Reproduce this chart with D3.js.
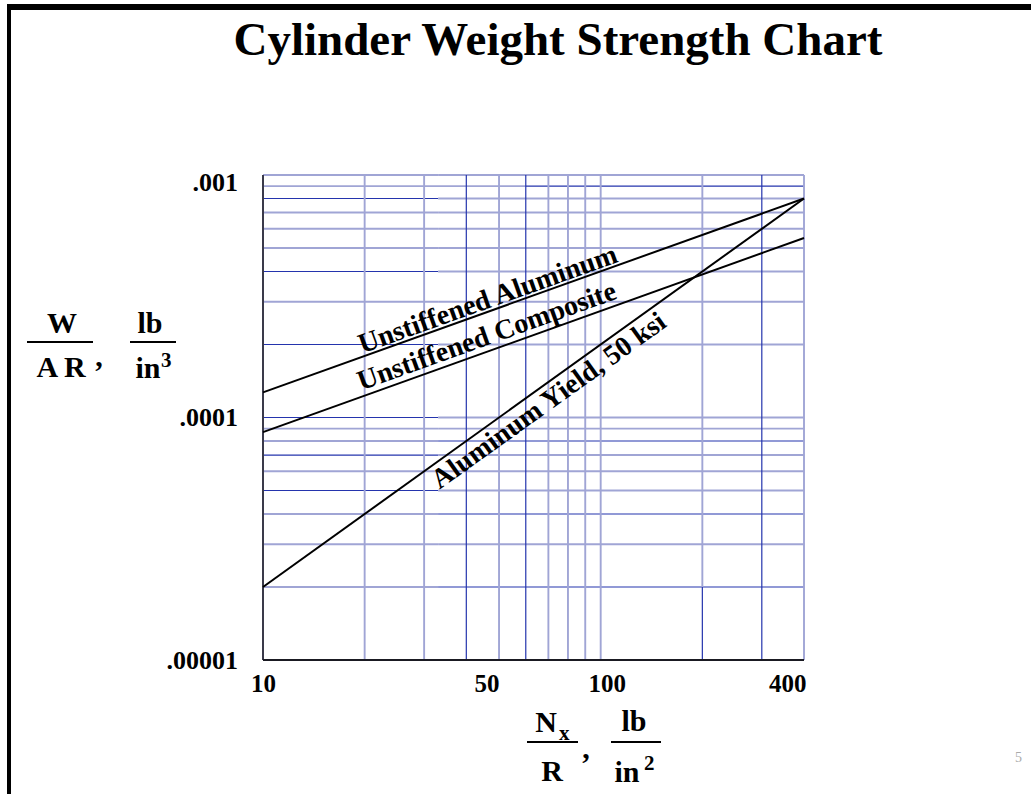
<!DOCTYPE html>
<html><head><meta charset="utf-8">
<script src="https://cdn.jsdelivr.net/npm/d3@7"></script>
<style>body{margin:0;background:#fff}svg{display:block}</style>
</head><body>
<script>
// ---- data ----
const titleText = "Cylinder Weight Strength Chart";
const xTicks = [10, 50, 100, 400];
const xTickLabels = ["10", "50", "100", "400"];
const yTicks = [1e-5, 1e-4, 1e-3];
const yTickLabels = [".00001", ".0001", ".001"];
const xGridValues = [20, 30, 40, 50, 60, 70, 80, 90, 100, 200, 300, 400];
const yGridValues = [2e-5, 3e-5, 4e-5, 5e-5, 6e-5, 7e-5, 8e-5, 9e-5, 1e-4,
                     2e-4, 3e-4, 4e-4, 5e-4, 6e-4, 7e-4, 8e-4, 9e-4, 1e-3];
const loadValues = [10, 400];                 // Nx/R, lb/in^2
const aluminumValues = [1.27e-4, 8.0e-4];     // W/AR, lb/in^3
const compositeValues = [8.7e-5, 5.5e-4];
const yieldValues = [2.0e-5, 8.0e-4];
const seriesNames = ["Unstiffened Aluminum", "Unstiffened Composite", "Aluminum Yield, 50 ksi"];

// ---- layout ----
const W = 1031, H = 794;
const svg = d3.select("body").append("svg").attr("width", W).attr("height", H);
const x = d3.scaleLog().domain([10, 400]).range([263, 804]);
const y = d3.scaleLog().domain([1e-5, 1e-3]).range([660, 175]);
const SERIF = "'Liberation Serif','Times New Roman',serif";
const LIGHT = "#a0a5d5", DARK = "#2434ad";

// slide frame (top and left)
svg.append("rect").attr("x", 7).attr("y", 4).attr("width", W - 7).attr("height", 6).attr("fill", "#000");
svg.append("rect").attr("x", 7).attr("y", 4).attr("width", 4).attr("height", H - 4).attr("fill", "#000");

// title
svg.append("text").attr("x", 558).attr("y", 55).attr("text-anchor", "middle")
  .attr("font-family", SERIF).attr("font-weight", "bold").attr("font-size", 47)
  .text(titleText);

// ---- grid ----
const g = svg.append("g");
const key = v => Math.round(v * 1e6);
const darkX = new Set([40, 60, 300]);
const darkLeft = new Set([800, 400, 200, 100, 70, 50]);
const darkRight = new Set([900, 80, 40, 20]);
const split = 33;
function seg(x1, x2, yy, dark) {
  g.append("line").attr("x1", x1).attr("x2", x2).attr("y1", yy).attr("y2", yy)
    .attr("stroke", dark ? DARK : LIGHT).attr("stroke-width", dark ? 1.2 : 1.9);
}
function vseg(xx, y1, y2, dark) {
  g.append("line").attr("x1", xx).attr("x2", xx).attr("y1", y1).attr("y2", y2)
    .attr("stroke", dark ? DARK : LIGHT).attr("stroke-width", dark ? 1.2 : 1.9);
}
yGridValues.forEach(v => {
  const k = key(v), yy = y(v);
  if (k === 900) { seg(x(10), x(60), yy, false); seg(x(60), x(400), yy, true); return; }
  seg(x(10), x(split), yy, darkLeft.has(k));
  seg(x(split), x(400), yy, darkRight.has(k));
});
xGridValues.forEach(v => {
  if (v === 200) { vseg(x(v), y(1e-3), y(2e-5), false); vseg(x(v), y(2e-5), y(1e-5), true); return; }
  vseg(x(v), y(1e-3), y(1e-5), darkX.has(v));
});
// axes lines
g.append("line").attr("x1", x(10)).attr("x2", x(10)).attr("y1", y(1e-3)).attr("y2", y(1e-5))
  .attr("stroke", "#3a3a4a").attr("stroke-width", 2);
g.append("line").attr("x1", x(10)).attr("x2", x(400)).attr("y1", y(1e-5)).attr("y2", y(1e-5))
  .attr("stroke", "#1a1a22").attr("stroke-width", 2);

// ---- series lines ----
const series = [aluminumValues, compositeValues, yieldValues];
const line = d3.line().x((d, i) => x(loadValues[i])).y(d => y(d));
svg.selectAll("path.series").data(series).join("path").attr("class", "series")
  .attr("d", line).attr("fill", "none").attr("stroke", "#000").attr("stroke-width", 2);

// line labels: start value along line and perpendicular offset (px, + = below)
const labelPlace = [{start: 19.8, off: -3}, {start: 19.8, off: -6}, {start: 30.3, off: 24}];
series.forEach((vals, i) => {
  const x0 = x(loadValues[0]), y0 = y(vals[0]), x1 = x(loadValues[1]), y1 = y(vals[1]);
  const ang = Math.atan2(y1 - y0, x1 - x0);
  const t = (x(labelPlace[i].start) - x0) / (x1 - x0);
  const px = x0 + t * (x1 - x0), py = y0 + t * (y1 - y0);
  const nx = -Math.sin(ang), ny = Math.cos(ang);
  const bx = px + nx * labelPlace[i].off, by = py + ny * labelPlace[i].off;
  svg.append("text").attr("transform", `translate(${bx},${by}) rotate(${ang * 180 / Math.PI})`)
    .attr("font-family", SERIF).attr("font-weight", "bold").attr("font-size", 28)
    .text(seriesNames[i]);
});

// ---- axes ticks ----
const xa = svg.append("g").attr("transform", `translate(0,${y(1e-5)})`)
  .call(d3.axisBottom(x).tickValues(xTicks).tickFormat((d, i) => xTickLabels[i]).tickSize(0).tickPadding(14));
xa.select(".domain").remove();
xa.selectAll("text").attr("font-family", SERIF).attr("font-weight", "bold").attr("font-size", 25).attr("fill", "#000")
  .attr("text-anchor", d => (d === 50 || d === 400) ? "end" : "middle")
  .attr("dx", d => d === 100 ? 6 : (d === 400 ? 2 : 0));
const ya = svg.append("g").attr("transform", `translate(${x(10)},0)`)
  .call(d3.axisLeft(y).tickValues(yTicks).tickFormat((d, i) => yTickLabels[i]).tickSize(0).tickPadding(25));
ya.select(".domain").remove();
ya.selectAll("text").attr("font-family", SERIF).attr("font-weight", "bold").attr("font-size", 26).attr("fill", "#000")
  .attr("dy", d => d === 1e-3 ? "0.6em" : "0.32em");

// ---- axis titles (fractions) ----
function t(xx, yy, s, size, anchor) {
  return svg.append("text").attr("x", xx).attr("y", yy).attr("text-anchor", anchor || "middle")
    .attr("font-family", SERIF).attr("font-weight", "bold").attr("font-size", size).text(s);
}
function bar(x1, x2, yy) {
  svg.append("line").attr("x1", x1).attr("x2", x2).attr("y1", yy).attr("y2", yy)
    .attr("stroke", "#000").attr("stroke-width", 2);
}
// y title
t(62, 333, "W", 30);
bar(27, 93, 342);
t(61, 377, "A R", 30);
t(99, 366, ",", 30);
t(150, 333, "lb", 30);
bar(130, 176, 342);
t(148, 378, "in", 30);
t(161, 367, "3", 21, "start");
// x title
t(546, 732, "N", 30);
t(559, 740, "x", 21, "start");
bar(527, 578, 742);
t(552, 781, "R", 30);
t(586, 758, ",", 30);
t(634, 731, "lb", 30);
bar(611, 661, 742);
t(627, 782, "in", 30);
t(644, 770, "2", 21, "start");

// slide number fragment
svg.append("text").attr("x", 1015).attr("y", 762).attr("font-family", SERIF)
  .attr("font-size", 14).attr("fill", "#aaa").text("5");
</script>
</body></html>
